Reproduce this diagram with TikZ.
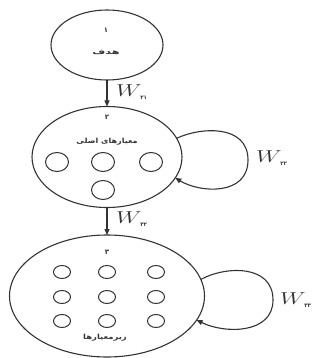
\documentclass[tikz,border=0pt]{standalone}
\usepackage{fontspec}
\newfontfamily\arabicfont[Script=Arabic]{DejaVu Sans}
\TeXXeTstate=1
\usetikzlibrary{arrows.meta,shapes.geometric}
\definecolor{ink}{HTML}{333333}
\tikzset{
  bigell/.style={draw=ink, ellipse, line width=1.1pt, outer sep=0pt, inner sep=0pt},
  smallell/.style={draw=ink, ellipse, line width=1pt, inner sep=0pt, minimum width=23pt, minimum height=19pt},
  tinyell/.style={draw=ink, ellipse, line width=1pt, inner sep=0pt, minimum width=17pt, minimum height=13pt},
  fa/.style={inner sep=0pt, text=ink, font=\arabicfont\bfseries\fontsize{7}{7}\selectfont},
  wlab/.style={inner sep=0pt, anchor=west, text=ink},
  conn/.style={draw=ink, line width=1.1pt, -{Triangle[length=6pt,width=5pt]}}
}
\newcommand{\WW}[1]{\scalebox{1.4}[1]{\fontsize{16}{16}\selectfont$W$}\kern-1.5pt\raisebox{-3pt}{\arabicfont\bfseries\fontsize{5.5}{5.5}\selectfont #1}}
\begin{document}
\begin{tikzpicture}[x=1pt,y=-1pt]
\useasboundingbox (0,0) rectangle (322,358);
% main ellipses
\node[bigell, minimum width=112pt, minimum height=70pt] (goal) at (107,45) {};
\node[bigell, minimum width=150pt, minimum height=101pt] (crit) at (107,157) {};
\node[bigell, minimum width=195pt, minimum height=122pt] (sub) at (107,296) {};
% texts
\node[fa] (n1) at (106,30) {۱};
\node[fa] (t1) at (106,52) {\scalebox{1.6}[1]{\beginR هدف\endR}};
\node[fa] (n2) at (107,117) {۲};
\node[fa] (t2) at (107,142) {\scalebox{1.15}[1]{\beginR معیارهای اصلی\endR}};
\node[fa] (n3) at (107,252) {۳};
\node[fa] (t3) at (105,338) {\scalebox{1.2}[1]{\beginR زیرمعیارها\endR}};
% criteria circles
\node[smallell] (c1) at (57,162) {};
\node[smallell] (c2) at (103,162) {};
\node[smallell] (c3) at (151,162) {};
\node[smallell] (c4) at (103,190) {};
% sub-criteria circles
\node[tinyell] (s11) at (62,272) {};
\node[tinyell] (s12) at (107,272) {};
\node[tinyell] (s13) at (156,272) {};
\node[tinyell] (s21) at (62,297) {};
\node[tinyell] (s22) at (107,297) {};
\node[tinyell] (s23) at (156,297) {};
\node[tinyell] (s31) at (62,321) {};
\node[tinyell] (s32) at (107,321) {};
\node[tinyell] (s33) at (156,321) {};
% connectors
\draw[conn] (goal.south) -- (crit.north);
\draw[conn] (crit.south) -- (sub.north);
\draw[conn] (crit.15) .. controls (200,127) and (248,124) .. (248,160) .. controls (248,196) and (200,193) .. (crit.-17);
\draw[conn] (sub.10) .. controls (225,266) and (273,264) .. (273,300) .. controls (273,334) and (225,334) .. (sub.-15);
% weight labels
\node[wlab] (w21) at (116,92) {\WW{۲۱}};
\node[wlab] (w22) at (256,158) {\WW{۲۲}};
\node[wlab] (w32) at (116,219) {\WW{۳۲}};
\node[wlab] (w33) at (280,300) {\WW{۳۳}};
\end{tikzpicture}
\end{document}
